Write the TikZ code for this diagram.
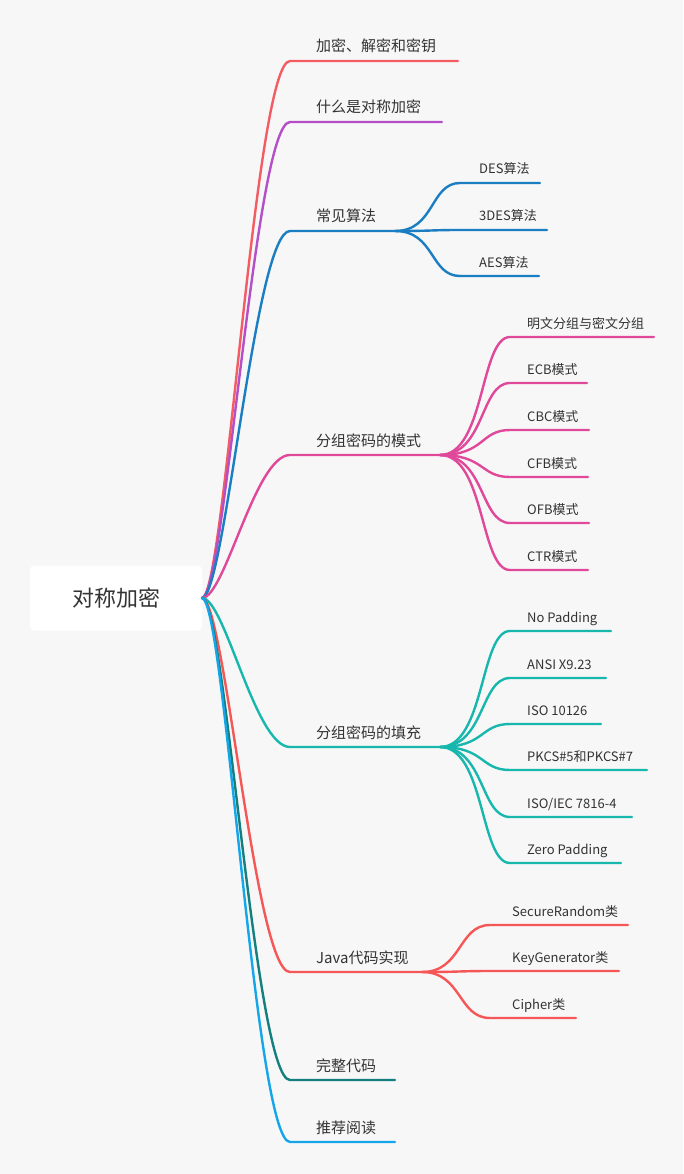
\documentclass[tikz,border=0pt]{standalone}
\usepackage{fontspec}
\setmainfont{Noto Sans CJK SC}
\definecolor{bg}{HTML}{F7F7F7}
\definecolor{cA}{HTML}{F45C64}
\definecolor{cB}{HTML}{B44FC8}
\definecolor{cC}{HTML}{1B7EC2}
\definecolor{cD}{HTML}{E0489A}
\definecolor{cE}{HTML}{17B7AE}
\definecolor{cF}{HTML}{F55757}
\definecolor{cG}{HTML}{147F7F}
\definecolor{cH}{HTML}{14A6E8}
\begin{document}
\begin{tikzpicture}[x=1pt,y=-1pt,
  ln/.style={line width=2.4pt,line cap=round},
  mt/.style={anchor=base west,font=\fontsize{15}{16}\selectfont,text=black!80,inner sep=0pt},
  st/.style={anchor=base west,font=\fontsize{13}{14}\selectfont,text=black!80,inner sep=0pt}]
\fill[bg] (0,0) rectangle (683,1174);
\useasboundingbox (0,0) rectangle (683,1174);
\node[fill=white,rounded corners=4pt,minimum width=172pt,minimum height=65pt,inner sep=0pt,font=\fontsize{22}{24}\selectfont,text=black!80] (root) at (116,598) {对称加密};
\coordinate (r) at (202,598);
\foreach \n/\y/\e/\c/\t in {a/61/458/cA/加密、解密和密钥, b/122/442/cB/什么是对称加密, c/231/395/cC/常见算法, d/455/440/cD/分组密码的模式, e/747/440/cE/分组密码的填充, f/972/422/cF/Java代码实现, g/1080/395/cG/完整代码, h/1142/395/cH/推荐阅读}{
  \coordinate (\n s) at (290,\y);
  \coordinate (\n e) at (\e,\y);
  \draw[ln,\c] (r) .. controls (225,598) and (255,\y) .. (\n s) -- (\n e);
  \node[mt] (\n t) at (316,\y-9) {\t};
}
\foreach \i/\y/\e/\t in {1/183/540/DES算法, 2/230/547/3DES算法, 3/276/539/AES算法}{
  \coordinate (c\i s) at (460,\y); \coordinate (c\i e) at (\e,\y);
  \draw[ln,cC] (ce) .. controls (435,231) and (430,\y) .. (c\i s) -- (c\i e);
  \node[st] (c\i t) at (479,\y-9) {\t};
}
\foreach \i/\y/\e/\t in {1/337/654/明文分组与密文分组, 2/383/587/ECB模式, 3/430/589/CBC模式, 4/477/588/CFB模式, 5/523/589/OFB模式, 6/570/588/CTR模式}{
  \coordinate (d\i s) at (510,\y); \coordinate (d\i e) at (\e,\y);
  \draw[ln,cD] (de) .. controls (485,455) and (480,\y) .. (d\i s) -- (d\i e);
  \node[st] (d\i t) at (527,\y-9) {\t};
}
\foreach \i/\y/\e/\t in {1/631/611/{No Padding}, 2/678/606/{ANSI X9.23}, 3/724/601/{ISO 10126}, 4/770/647/{PKCS\#5和PKCS\#7}, 5/817/632/{ISO{/}IEC 7816-4}, 6/863/621/{Zero Padding}}{
  \coordinate (e\i s) at (510,\y); \coordinate (e\i e) at (\e,\y);
  \draw[ln,cE] (ee) .. controls (485,747) and (480,\y) .. (e\i s) -- (e\i e);
  \node[st] (e\i t) at (527,\y-9) {\t};
}
\foreach \i/\y/\e/\t in {1/925/628/SecureRandom类, 2/971/619/KeyGenerator类, 3/1018/576/Cipher类}{
  \coordinate (f\i s) at (490,\y); \coordinate (f\i e) at (\e,\y);
  \draw[ln,cF] (fe) .. controls (462,972) and (458,\y) .. (f\i s) -- (f\i e);
  \node[st] (f\i t) at (512,\y-9) {\t};
}
\end{tikzpicture}
\end{document}
